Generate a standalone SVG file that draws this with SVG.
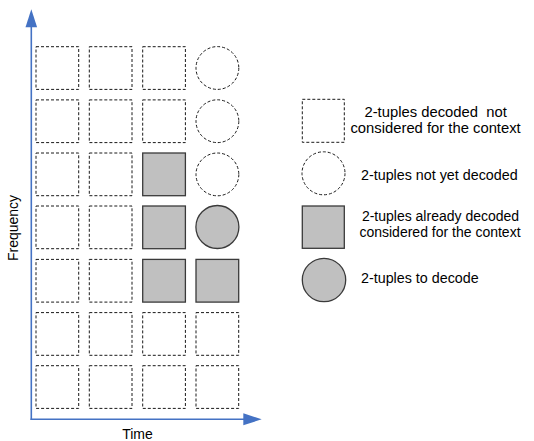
<svg xmlns="http://www.w3.org/2000/svg" width="534" height="441" viewBox="0 0 534 441">
<style>
.d{fill:#fff;stroke:#1a1a1a;stroke-width:1;stroke-dasharray:3,2}
.g{fill:#c0c0c0;stroke:#3a3a3a;stroke-width:1.3}
.ax{stroke:#4472c4;stroke-width:1.6;fill:none}
.t{font-family:"Liberation Sans",Arial,sans-serif;font-size:14px;fill:#000}
</style>
<defs>
<rect id="sq" width="42.7" height="42.7"/>
</defs>
<g id="axes">
<line class="ax" x1="31.3" y1="420" x2="31.3" y2="26"/>
<polygon points="31.3,9.3 25.5,27.3 37.1,27.3" fill="#4472c4"/>
<line class="ax" x1="30.5" y1="419.3" x2="245" y2="419.3"/>
<polygon points="261.7,419.3 243.3,413.3 243.3,425.3" fill="#4472c4"/>
</g>
<g id="grid">
<use href="#sq" class="d" x="36" y="46.7"/><use href="#sq" class="d" x="89.3" y="46.7"/><use href="#sq" class="d" x="142.7" y="46.7"/><circle class="d" cx="217.4" cy="68" r="21.4"/>
<use href="#sq" class="d" x="36" y="99.9"/><use href="#sq" class="d" x="89.3" y="99.9"/><use href="#sq" class="d" x="142.7" y="99.9"/><circle class="d" cx="217.4" cy="121.2" r="21.4"/>
<use href="#sq" class="d" x="36" y="153"/><use href="#sq" class="d" x="89.3" y="153"/><use href="#sq" class="g" x="142.7" y="153"/><circle class="d" cx="217.4" cy="174.4" r="21.4"/>
<use href="#sq" class="d" x="36" y="206"/><use href="#sq" class="d" x="89.3" y="206"/><use href="#sq" class="g" x="142.7" y="206"/><circle class="g" cx="217.4" cy="227" r="21.5"/>
<use href="#sq" class="d" x="36" y="259.4"/><use href="#sq" class="d" x="89.3" y="259.4"/><use href="#sq" class="g" x="142.7" y="259.4"/><use href="#sq" class="g" x="196" y="259.4"/>
<use href="#sq" class="d" x="36" y="312.6"/><use href="#sq" class="d" x="89.3" y="312.6"/><use href="#sq" class="d" x="142.7" y="312.6"/><use href="#sq" class="d" x="196" y="312.6"/>
<use href="#sq" class="d" x="36" y="365.7"/><use href="#sq" class="d" x="89.3" y="365.7"/><use href="#sq" class="d" x="142.7" y="365.7"/><use href="#sq" class="d" x="196" y="365.7"/>
</g>
<g id="labels">
<text class="t" x="137.5" y="438.5" text-anchor="middle">Time</text>
<text class="t" transform="translate(18,228) rotate(-90)" text-anchor="middle">Frequency</text>
</g>
<g id="legend1">
<rect class="d" x="302.3" y="99.3" width="42" height="43"/>
<text class="t" x="435.6" y="117.3" text-anchor="middle" style="font-size:14.8px;white-space:pre">2-tuples decoded  not</text>
<text class="t" x="435.6" y="133.3" text-anchor="middle" style="font-size:14.8px">considered for the context</text>
</g>
<g id="legend2">
<circle class="d" cx="323.5" cy="173.3" r="21.5"/>
<text class="t" x="361" y="180" style="font-size:14.3px">2-tuples not yet decoded</text>
</g>
<g id="legend3">
<rect class="g" x="302.3" y="206" width="42" height="42.3"/>
<text class="t" x="440.5" y="220.7" text-anchor="middle">2-tuples already decoded</text>
<text class="t" x="440" y="237.3" text-anchor="middle">considered for the context</text>
</g>
<g id="legend4">
<circle class="g" cx="324" cy="280" r="21.7"/>
<text class="t" x="361" y="283" style="font-size:14.3px">2-tuples to decode</text>
</g>
</svg>
